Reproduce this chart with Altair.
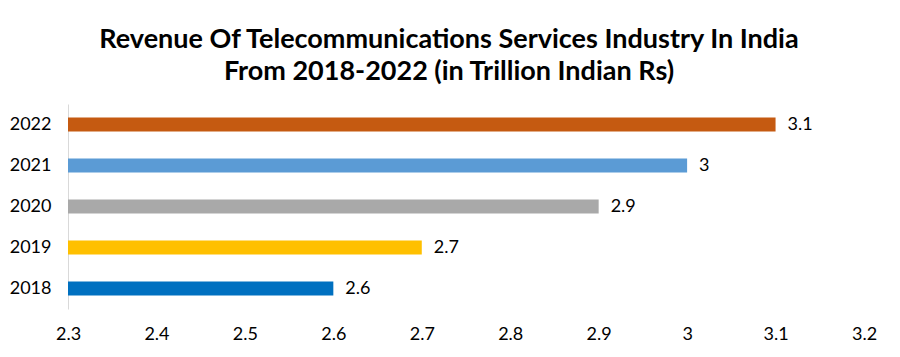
import altair as alt
import pandas as pd

years = ["2022", "2021", "2020", "2019", "2018"]
revenue = [3.1, 3.0, 2.9, 2.7, 2.6]
labels = ["3.1", "3", "2.9", "2.7", "2.6"]
colors = ["#C55A11", "#5B9BD5", "#A9A9A9", "#FFC000", "#0070C0"]

df = pd.DataFrame({"year": years, "revenue": revenue, "label": labels})

FONT = "Lato"

y_enc = alt.Y("year:N", sort=years, title=None,
              scale=alt.Scale(paddingInner=0, paddingOuter=0),
              axis=alt.Axis(ticks=False, labelFontSize=18, labelFont=FONT,
                            labelColor="#000000", labelPadding=17,
                            domainColor="#D9D9D9", labelAlign="right"))

x_enc = alt.X("revenue:Q", title=None,
              scale=alt.Scale(domain=[2.3, 3.2], zero=False, nice=False),
              axis=alt.Axis(values=[2.3, 2.4, 2.5, 2.6, 2.7, 2.8, 2.9, 3.0, 3.1, 3.2],
                            labelExpr="format(datum.value, '~g')",
                            grid=False, ticks=False, domain=False,
                            labelFontSize=18, labelFont=FONT, labelColor="#000000",
                            labelPadding=16, labelFlush=False))

bars = alt.Chart(df).mark_bar(size=14).encode(
    y=y_enc,
    x=x_enc,
    x2=alt.datum(2.3),
    color=alt.Color("year:N", scale=alt.Scale(domain=years, range=colors), legend=None),
)

text = alt.Chart(df).mark_text(align="left", dx=12, fontSize=18, font=FONT, color="#000000").encode(
    y=alt.Y("year:N", sort=years),
    x=alt.X("revenue:Q"),
    text="label:N",
)

chart = alt.layer(bars, text).properties(
    width=796,
    height=205,
    title=alt.TitleParams(
        ["Revenue Of Telecommunications Services Industry In India",
         "From 2018-2022 (in Trillion Indian Rs)"],
        font=FONT, fontSize=27, fontWeight="bold", color="#000000",
        anchor="middle", dx=-17, offset=18, lineHeight=32,
    ),
    autosize=alt.AutoSizeParams(type="none"),
    padding={"left": 60, "right": 28, "top": 96, "bottom": 40},
).configure_view(stroke=None)

chart.save("out.html", embed_options={"renderer": "svg", "actions": False})
